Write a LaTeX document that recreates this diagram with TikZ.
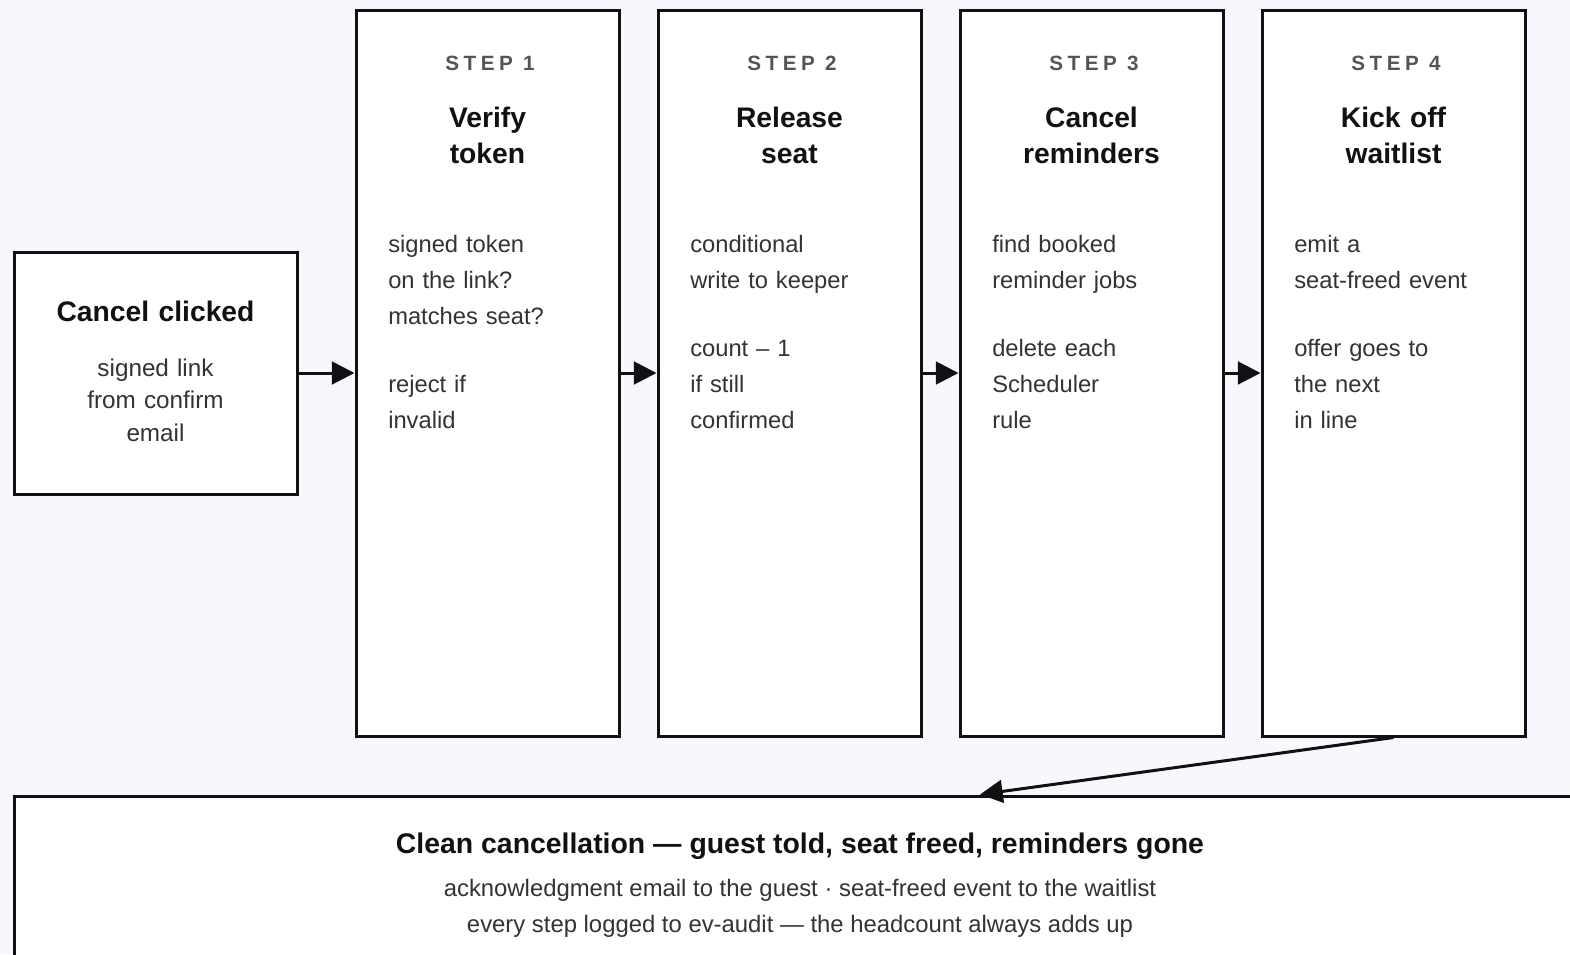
\documentclass[tikz,border=0pt]{standalone}
\usepackage{fontspec}
\setmainfont{Liberation Sans}
\newfontfamily\stepfont[LetterSpace=22]{Liberation Sans}
\usetikzlibrary{arrows.meta}
\definecolor{bg}{HTML}{F8F7FE}
\definecolor{ink}{HTML}{111111}
\definecolor{bodyc}{HTML}{333333}
\definecolor{steplbl}{HTML}{555555}
\begin{document}
\begin{tikzpicture}[x=0.75pt,y=-0.75pt,
  box/.style={draw=ink, line width=2.25pt, fill=white, inner sep=0pt},
  arr/.style={draw=ink, line width=2.25pt, -{Triangle[length=17pt,width=17pt]}},
  steplabel/.style={anchor=base, inner sep=0pt, text=steplbl, font=\stepfont\bfseries\fontsize{15.5}{18}\selectfont},
  titletext/.style={anchor=base, inner sep=0pt, text=ink, align=center, text width=250pt, font=\bfseries\fontsize{21.2}{27}\selectfont},
  bodytext/.style={anchor=base west, inner sep=0pt, text=bodyc, align=left, text width=200pt, font=\fontsize{17.8}{27}\selectfont},
]
\fill[bg] (0,0) rectangle (1570,954);
\useasboundingbox (0,0) rectangle (1570,954);
\clip (0,0) rectangle (1570,954);

% boxes
\node[box, minimum width=283*0.75pt, minimum height=242*0.75pt] (start) at (155.5,373) {};
\node[box, minimum width=263*0.75pt, minimum height=726*0.75pt] (s1) at (487.5,373) {};
\node[box, minimum width=263*0.75pt, minimum height=726*0.75pt] (s2) at (789.5,373) {};
\node[box, minimum width=263*0.75pt, minimum height=726*0.75pt] (s3) at (1091.5,373) {};
\node[box, minimum width=263*0.75pt, minimum height=726*0.75pt] (s4) at (1393.5,373) {};
\node[box, minimum width=1932*0.75pt, minimum height=404*0.75pt] (done) at (980,998) {};

% start box text
\node[titletext] (startt) at (155.5,321) {Cancel clicked};
\node[anchor=base, inner sep=0pt, text=bodyc, align=center, text width=200pt, font=\fontsize{18.2}{24.4}\selectfont] (startb) at (155.5,376) {signed link\\from confirm\\email};

% step labels
\node[steplabel] (s1k) at (490,70) {STEP 1};
\node[steplabel] (s2k) at (792,70) {STEP 2};
\node[steplabel] (s3k) at (1094,70) {STEP 3};
\node[steplabel] (s4k) at (1396,70) {STEP 4};

% step titles
\node[titletext] (s1t) at (487.5,127) {Verify\\token};
\node[titletext] (s2t) at (789.5,127) {Release\\seat};
\node[titletext] (s3t) at (1091.5,127) {Cancel\\reminders};
\node[titletext] (s4t) at (1393.5,127) {Kick off\\waitlist};

% step bodies
\node[bodytext] (s1b) at (388,252) {signed token\\on the link?\\matches seat?\\[24pt]reject if\\invalid};
\node[bodytext] (s2b) at (690,252) {conditional\\write to keeper\\[24pt]count – 1\\if still\\confirmed};
\node[bodytext] (s3b) at (992,252) {find booked\\reminder jobs\\[24pt]delete each\\Scheduler\\rule};
\node[bodytext] (s4b) at (1294,252) {emit a\\seat-freed event\\[24pt]offer goes to\\the next\\in line};

% bottom text
\node[anchor=base, inner sep=0pt, text=ink, font=\bfseries\fontsize{21.3}{24}\selectfont] (donet) at (800,853) {Clean cancellation — guest told, seat freed, reminders gone};
\node[anchor=base, inner sep=0pt, text=bodyc, font=\fontsize{17.9}{20}\selectfont] (doneb1) at (800,896) {acknowledgment email to the guest · seat-freed event to the waitlist};
\node[anchor=base, inner sep=0pt, text=bodyc, font=\fontsize{17.9}{20}\selectfont] (doneb2) at (800,932) {every step logged to ev-audit — the headcount always adds up};

% connectors
\draw[arr] (start.east) -- (s1.west);
\draw[arr] (s1.east) -- (s2.west);
\draw[arr] (s2.east) -- (s3.west);
\draw[arr] (s3.east) -- (s4.west);
\draw[arr] (s4.south) -- (done.north);
\end{tikzpicture}
\end{document}
